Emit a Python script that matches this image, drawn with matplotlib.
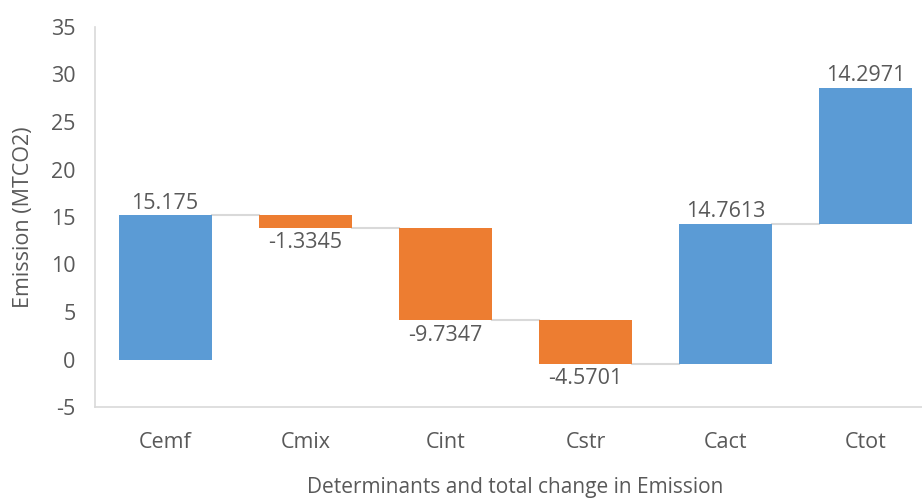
import matplotlib.pyplot as plt
import numpy as np

plt.rcParams['font.family'] = ['Open Sans', 'DejaVu Sans']
plt.rcParams['axes.unicode_minus'] = False

categories = ['Cemf', 'Cmix', 'Cint', 'Cstr', 'Cact', 'Ctot']
changes = [15.175, -1.3345, -9.7347, -4.5701, 14.7613, 14.2971]
labels = ['15.175', '-1.3345', '-9.7347', '-4.5701', '14.7613', '14.2971']

blue = '#5B9BD5'
orange = '#ED7D31'
txt = '#595959'
grey = '#D9D9D9'
fs = 15.5

changes = np.array(changes)
ends = np.cumsum(changes)
starts = ends - changes
x = np.arange(len(categories))
w = 0.663

fig = plt.figure(figsize=(9.22, 4.98), dpi=100)
ax = fig.add_axes([95/922, 91/498, 841/922, 380/498])

colors = [blue if c > 0 else orange for c in changes]
ax.bar(x, changes, bottom=starts, width=w, color=colors, zorder=3)

# connector lines between bars
for i in range(len(x) - 1):
    ax.plot([x[i] + w/2, x[i+1] - w/2], [ends[i], ends[i]], color=grey, lw=1.5, zorder=2)

for i, c in enumerate(changes):
    if c > 0:
        ax.annotate(labels[i], (x[i], ends[i]), xytext=(0, 1), textcoords='offset points',
                    ha='center', va='bottom', fontsize=fs, color=txt)
    else:
        ax.annotate(labels[i], (x[i], ends[i]), xytext=(0, -3), textcoords='offset points',
                    ha='center', va='top', fontsize=fs, color=txt)

ax.set_xlim(-0.5, 5.5)
ax.set_ylim(-5, 35)
ax.set_yticks(np.arange(-5, 36, 5))
ax.set_xticks(x)
ax.set_xticklabels(categories)
ax.tick_params(length=0, labelsize=fs, colors=txt)
ax.tick_params(axis='y', pad=14)
ax.tick_params(axis='x', pad=18)

for s in ['top', 'right']:
    ax.spines[s].set_visible(False)
for s in ['left', 'bottom']:
    ax.spines[s].set_color(grey)
    ax.spines[s].set_linewidth(1.2)

ax.set_ylabel('Emission (MTCO2)', fontsize=fs, color=txt)
ax.yaxis.set_label_coords(-61/841, 0.5)
fig.text(515/922, 11/498, 'Determinants and total change in Emission', ha='center', va='center',
         fontsize=15, color=txt)

plt.savefig('out.png', dpi=100)
